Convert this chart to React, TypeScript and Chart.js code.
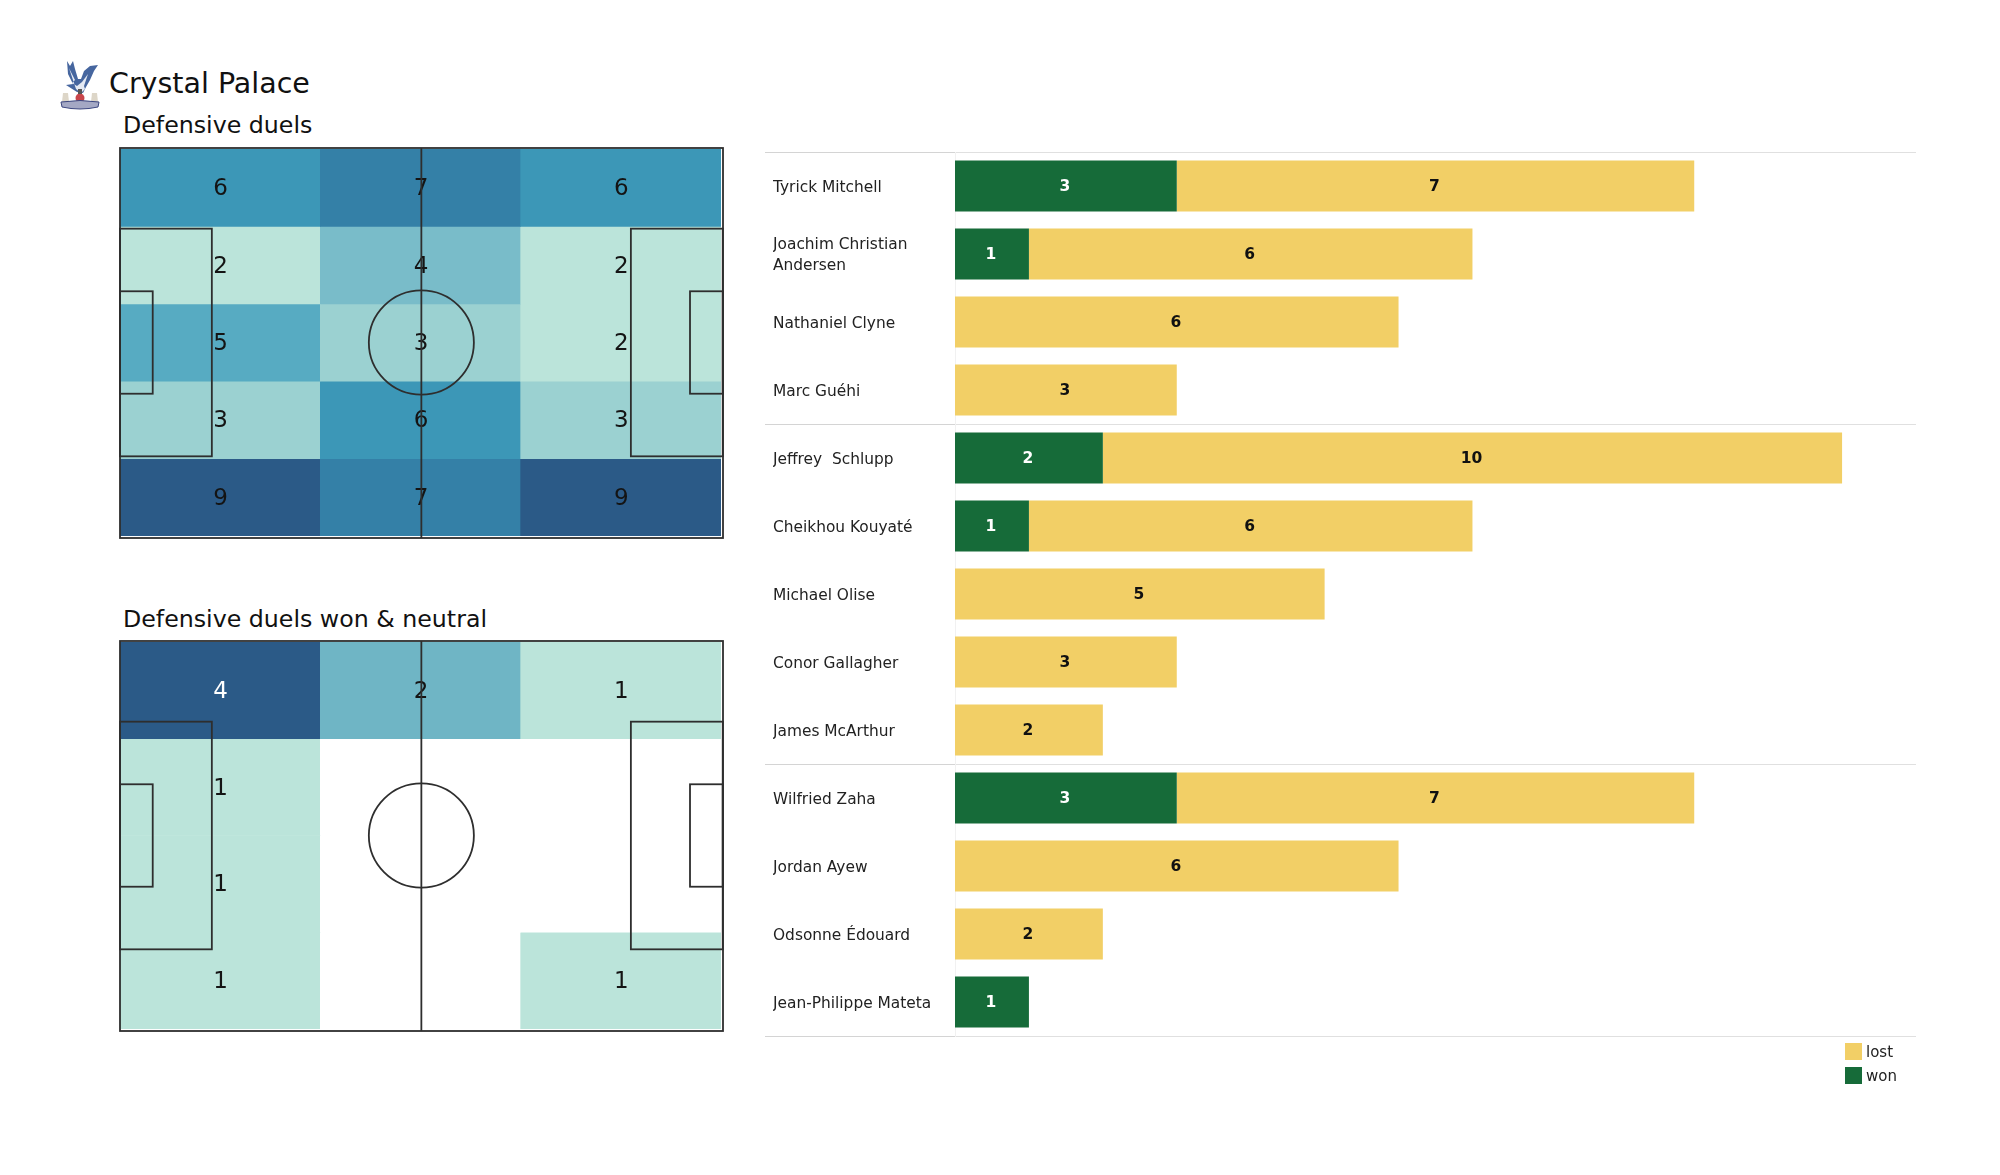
import React, { useEffect, useRef } from "react";
import { Chart, registerables } from "chart.js";

Chart.register(...registerables);

const FONT = "'DejaVu Sans', sans-serif";
const TEAM = "Crystal Palace";
const PITCH_TITLE_ALL = "Defensive duels";
const PITCH_TITLE_WON = "Defensive duels won & neutral";

const columns = ["left", "centre", "right"];
const duelsAll = [
  [6, 7, 6],
  [2, 4, 2],
  [5, 3, 2],
  [3, 6, 3],
  [9, 7, 9],
];
const duelsWon = [
  [4, 2, 1],
  [1, 0, 0],
  [1, 0, 0],
  [1, 0, 1],
];
const coloursAll: Record<number, string> = {
  2: "#bbe4da", 3: "#9bd1d1", 4: "#79bcc9", 5: "#57abc2", 6: "#3c97b7", 7: "#3480a7", 9: "#2b5a87",
};
const coloursWon: Record<number, string> = {
  0: "#ffffff", 1: "#bbe4da", 2: "#6fb5c5", 4: "#2b5a87",
};

const players: (string | string[])[] = [
  "Tyrick Mitchell",
  ["Joachim Christian", "Andersen"],
  "Nathaniel Clyne",
  "Marc Guéhi",
  "Jeffrey  Schlupp",
  "Cheikhou Kouyaté",
  "Michael Olise",
  "Conor Gallagher",
  "James McArthur",
  "Wilfried Zaha",
  "Jordan Ayew",
  "Odsonne Édouard",
  "Jean-Philippe Mateta",
];
const won = [3, 1, 0, 0, 2, 1, 0, 0, 0, 3, 0, 0, 1];
const lost = [7, 6, 6, 3, 10, 6, 5, 3, 2, 7, 6, 2, 0];
const groupBreaks = [0, 4, 9];

const GREEN = "#166b39";
const YELLOW = "#f2cf66";
const LINE = "#2e2e2e";

const pitchPlugin = {
  id: "pitch",
  afterDatasetsDraw(chart: any) {
    const { ctx, chartArea: a, scales } = chart;
    const counts: number[][] = chart.options.plugins.pitch.counts;
    const light: number = chart.options.plugins.pitch.lightValue;
    ctx.save();
    // cell counts
    ctx.font = `23px ${FONT}`;
    ctx.textAlign = "center";
    ctx.textBaseline = "middle";
    counts.forEach((row, r) => {
      row.forEach((v, c) => {
        if (!v) return;
        ctx.fillStyle = v === light ? "#ffffff" : "#141414";
        ctx.fillText(String(v), scales.x.getPixelForValue(c) + 0.5, scales.y.getPixelForValue(r + 0.5) + 1.5);
      });
    });
    // pitch markings, in metres
    const X = (m: number) => scales.xp.getPixelForValue(m);
    const Y = (m: number) => scales.yp.getPixelForValue(m);
    ctx.strokeStyle = LINE;
    ctx.lineWidth = 1.8;
    const box = (x0: number, y0: number, x1: number, y1: number) =>
      ctx.strokeRect(X(x0), Y(y0), X(x1) - X(x0), Y(y1) - Y(y0));
    ctx.strokeRect(a.left, a.top - 1, a.right - a.left + 2, a.bottom - a.top + 3);
    box(0, 14, 16, 54);
    box(89, 14, 105, 54);
    box(0, 25, 5.7, 43);
    box(99.3, 25, 105, 43);
    ctx.beginPath();
    ctx.moveTo(X(52.5), a.top - 1);
    ctx.lineTo(X(52.5), a.bottom + 2);
    ctx.stroke();
    ctx.beginPath();
    ctx.ellipse(X(52.5), Y(34), X(61.65) - X(52.5), Y(43.15) - Y(34), 0, 0, Math.PI * 2);
    ctx.stroke();
    ctx.restore();
  },
};

const barLabelPlugin = {
  id: "barLabels",
  afterDatasetsDraw(chart: any) {
    const { ctx } = chart;
    ctx.save();
    ctx.font = `bold 15.5px ${FONT}`;
    ctx.textAlign = "center";
    ctx.textBaseline = "middle";
    chart.data.datasets.forEach((ds: any, i: number) => {
      chart.getDatasetMeta(i).data.forEach((bar: any, j: number) => {
        const v = ds.data[j];
        if (!v) return;
        ctx.fillStyle = ds.backgroundColor === GREEN ? "#ffffff" : "#111111";
        ctx.fillText(String(v), (bar.x + bar.base) / 2 - 1, bar.y + 0.5);
      });
    });
    // legend: lost above won
    const items = [...chart.data.datasets].reverse();
    ctx.font = `15px ${FONT}`;
    ctx.textAlign = "left";
    items.forEach((ds: any, i: number) => {
      const y = chart.chartArea.bottom + 7 + i * 24;
      ctx.fillStyle = ds.backgroundColor;
      ctx.fillRect(chart.chartArea.right - 71, y, 17, 17);
      ctx.fillStyle = "#222222";
      ctx.fillText(ds.label, chart.chartArea.right - 50, y + 10);
    });
    ctx.restore();
  },
};

function Pitch({ counts, colours, lightValue, top, height }: any) {
  const ref = useRef<HTMLCanvasElement>(null);
  useEffect(() => {
    const chart = new Chart(ref.current!, {
      type: "bar",
      data: {
        labels: columns,
        datasets: counts.map((row: number[], r: number) => ({
          label: `row ${r + 1}`,
          data: row.map(() => [r, r + 1]),
          backgroundColor: row.map((v) => colours[v]),
          borderWidth: 0,
          barPercentage: 1,
          categoryPercentage: 1,
          grouped: false,
        })),
      },
      options: {
        animation: false,
        responsive: false,
        events: [],
        layout: { padding: { left: 20, right: 19, top: 18, bottom: 15 } },
        scales: {
          x: { display: false },
          y: { display: false, min: 0, max: counts.length, reverse: true },
          xp: { type: "linear", display: false, axis: "x", min: 0, max: 104.7, offset: false },
          yp: { type: "linear", display: false, axis: "y", min: 0, max: 68, reverse: true, offset: false },
        },
        plugins: {
          legend: { display: false },
          tooltip: { enabled: false },
          pitch: { counts, lightValue },
        },
      } as any,
      plugins: [pitchPlugin],
    });
    return () => chart.destroy();
  }, []);
  return (
    <canvas
      ref={ref}
      width={640}
      height={height}
      style={{ position: "absolute", left: 100, top, width: 640, height }}
    />
  );
}

function PlayerBars() {
  const ref = useRef<HTMLCanvasElement>(null);
  useEffect(() => {
    const gridColour = (on: string) => (c: any) =>
      !c.tick || groupBreaks.includes(c.index) ? on : "rgba(0,0,0,0)";
    const chart = new Chart(ref.current!, {
      type: "bar",
      data: {
        labels: players as any,
        datasets: [
          { label: "won", data: won, backgroundColor: GREEN, borderWidth: 0, barPercentage: 0.75, categoryPercentage: 1 },
          { label: "lost", data: lost, backgroundColor: YELLOW, borderWidth: 0, barPercentage: 0.75, categoryPercentage: 1 },
        ],
      },
      options: {
        indexAxis: "y",
        animation: false,
        responsive: false,
        events: [],
        layout: { padding: { left: 13, right: 44, top: 22, bottom: 94 } },
        scales: {
          x: { display: false, stacked: true, min: 0, max: 13 },
          y: {
            stacked: true,
            afterFit: (s: any) => { s.width = 182; },
            border: { color: "#f1f1f1", width: 1 },
            grid: {
              offset: true,
              tickLength: 190,
              color: gridColour("#e0e0e0"),
              tickColor: gridColour("#d4d4d4"),
            },
            ticks: {
              autoSkip: false,
              crossAlign: "far",
              padding: 0,
              labelOffset: 1.5,
              color: "#222222",
              font: { family: FONT, size: 15.4, lineHeight: 1.33 },
            },
          },
        },
        plugins: { legend: { display: false }, tooltip: { enabled: false } },
      } as any,
      plugins: [barLabelPlugin],
    });
    return () => chart.destroy();
  }, []);
  return (
    <canvas
      ref={ref}
      width={1200}
      height={1000}
      style={{ position: "absolute", left: 760, top: 130, width: 1200, height: 1000 }}
    />
  );
}

function Crest() {
  return (
    <svg width={40} height={52} viewBox="0 0 40 52" style={{ position: "absolute", left: 60, top: 60 }}>
      <path d="M7 1 L10 6 L13 1 L15 9 L18 19 L21 19 L24 11 L30 6 L38 5 L34 11 L30 20 L26 27 L23 33 L17 32 L6 25 L13 24 L8 14 Z" fill="#46669f" />
      <path d="M9 8 L15 20 L12 23 L17 26 L22 22 L28 14 L24 26 L25 29 L21 33 L16 29 Z" fill="#e4e9f3" />
      <path d="M3 33 L8 33 L9 42 L2 42 Z" fill="#ddd6c8" />
      <path d="M32 33 L37 33 L38 42 L31 42 Z" fill="#ddd6c8" />
      <circle cx="20" cy="38" r="4.5" fill="#c8454a" />
      <rect x="18" y="29" width="4" height="5" fill="#555" />
      <path d="M1 42 Q20 39 39 42 L38 47 Q20 51 2 47 Z" fill="#a4a8c4" stroke="#3c4780" strokeWidth="1" />
    </svg>
  );
}

const textStyle = (left: number, top: number, size: number): React.CSSProperties => ({
  position: "absolute",
  left,
  top,
  fontFamily: FONT,
  fontSize: size,
  lineHeight: 1,
  color: "#111111",
  whiteSpace: "nowrap",
});

export default function App() {
  return (
    <div style={{ position: "absolute", left: 0, top: 0, width: 2000, height: 1175, background: "#fff", overflow: "hidden" }}>
      <Crest />
      <div style={textStyle(109, 70, 28.5)}>{TEAM}</div>
      <div style={textStyle(123, 114, 23.7)}>{PITCH_TITLE_ALL}</div>
      <div style={textStyle(123, 608, 23.7)}>{PITCH_TITLE_WON}</div>
      <Pitch counts={duelsAll} colours={coloursAll} lightValue={-1} top={131} height={420} />
      <Pitch counts={duelsWon} colours={coloursWon} lightValue={4} top={624} height={420} />
      <PlayerBars />
    </div>
  );
}
